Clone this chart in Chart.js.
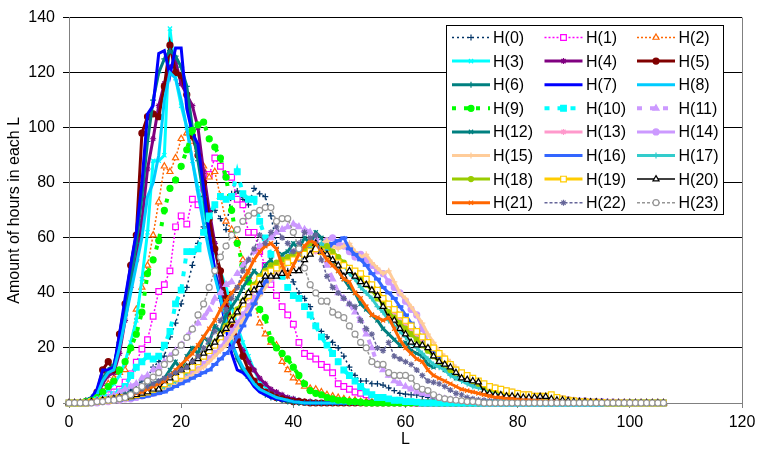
<!DOCTYPE html>
<html>
<head>
<meta charset="utf-8">
<script src="https://cdn.jsdelivr.net/npm/chart.js@4.4.1/dist/chart.umd.min.js"></script>
<style>
  html, body { margin: 0; padding: 0; background: #fff; }
  #wrap { width: 761px; height: 451px; }
</style>
</head>
<body>
<div id="wrap"><canvas id="chart" width="761" height="451"></canvas></div>
<script>
// ── Data ───────────────────────────────────────────────────────────────────────

const L = [
  0,1,2,3,4,5,6,7,8,9,10,11,12,13,14,15,16,17,18,19,20,21,22,23,24,25,26,27,28,29,
  30,31,32,33,34,35,36,37,38,39,40,41,42,43,44,45,46,47,48,49,50,51,52,53,54,55,56,57,58,59,
  60,61,62,63,64,65,66,67,68,69,70,71,72,73,74,75,76,77,78,79,80,81,82,83,84,85,86,87,88,89,
  90,91,92,93,94,95,96,97,98,99,100,101,102,103,104,105,106
];

const X_TICKS = [0, 20, 40, 60, 80, 100, 120];
const Y_TICKS = [0, 20, 40, 60, 80, 100, 120, 140];

const NAMES = [
  'H(0)', 'H(1)', 'H(2)', 'H(3)', 'H(4)', 'H(5)', 'H(6)', 'H(7)',
  'H(8)', 'H(9)', 'H(10)', 'H(11)', 'H(12)', 'H(13)', 'H(14)', 'H(15)',
  'H(16)', 'H(17)', 'H(18)', 'H(19)', 'H(20)', 'H(21)', 'H(22)', 'H(23)'
];

const H0 = [
  0,0,0,0,0,0.5,1,1.5,2,3,
  3.5,4.7,6.5,8,9.4,13,15,17,24,29,
  36,42,50,58,64,69,70,67,63,76,
  77,74,72,78,76,75,68,58,52,48,
  44,40,38,35,28,26,24,22,20,17,
  13,10,8,8,7,7,6.5,5.5,4.5,3.5,
  3.2,3,2.9,2.5,2,1.5,1.2,1,0.8,0.5,
  0.5,0.3,0,0,0,0,0,0,0,0,
  0,0,0,0,0,0,0,0,0,0,
  0,0,0,0,0,0,0,0,0,0,
  0,0,0,0,0,0,0
];
const H1 = [
  0,0,0,0,0.5,1,2,3,4,5,
  7.6,10.6,14.8,19.6,23,31.5,40.5,43,48,64,
  68,65,74,72,78,83,89,86,83,82,
  74,72,62,62,55,50,43,39,35,32,
  28.6,22,18,17,16,14,13,11,7,6,
  5,4,3.5,3,2,1.5,1,1,0.5,0.5,
  0.3,0.2,0,0,0,0,0,0,0,0,
  0,0,0,0,0,0,0,0,0,0,
  0,0,0,0,0,0,0,0,0,0,
  0,0,0,0,0,0,0,0,0,0,
  0,0,0,0,0,0,0
];
const H2 = [
  0,0,0,0.5,1,2,4,7,9,11,
  12,20,34,42,50,61,73,86,84,89,
  96,98,95,92,86,82,84,75,66,63,
  59,52,46,37,29,25,22,21,15,12,
  9,7.6,6,5.3,5,4,3,2.5,2,1.5,
  1,1,0.5,0.5,0.3,0.2,0,0,0,0,
  0,0,0,0,0,0,0,0,0,0,
  0,0,0,0,0,0,0,0,0,0,
  0,0,0,0,0,0,0,0,0,0,
  0,0,0,0,0,0,0,0,0,0,
  0,0,0,0,0,0,0
];
const H3 = [
  0,0,0,0,0.5,1,3,5,7,10,
  15,22,30,45,62,88,88,90,136,118,
  108,100,88,78,70,62,55,48,42,35,
  28,22,17,12,8,6,4.5,3.5,2.5,2,
  1.5,1,0.5,0.5,0.3,0,0,0,0,0,
  0,0,0,0,0,0,0,0,0,0,
  0,0,0,0,0,0,0,0,0,0,
  0,0,0,0,0,0,0,0,0,0,
  0,0,0,0,0,0,0,0,0,0,
  0,0,0,0,0,0,0,0,0,0,
  0,0,0,0,0,0,0
];
const H4 = [
  0,0,0,0.5,1,3,7,10,11,18,
  30,42,52,66,85,96,108,116,122,124,
  116,112,108,100,84,70,58,44,34,26,
  23,19,15,12,9,7,5,4,3,2,
  1.5,1,0.5,0.5,0.3,0,0,0,0,0,
  0,0,0,0,0,0,0,0,0,0,
  0,0,0,0,0,0,0,0,0,0,
  0,0,0,0,0,0,0,0,0,0,
  0,0,0,0,0,0,0,0,0,0,
  0,0,0,0,0,0,0,0,0,0,
  0,0,0,0,0,0,0
];
const H5 = [
  0,0,0,0.5,1,4,12,15,12,25,
  36,50,61,98,104,105,104,115,130,120,
  119,112,97,90,80,67,56,48,38,29,
  23,17,12,8,6,4,3,2,1.5,1,
  0.5,0.5,0.3,0,0,0,0,0,0,0,
  0,0,0,0,0,0,0,0,0,0,
  0,0,0,0,0,0,0,0,0,0,
  0,0,0,0,0,0,0,0,0,0,
  0,0,0,0,0,0,0,0,0,0,
  0,0,0,0,0,0,0,0,0,0,
  0,0,0,0,0,0,0
];
const H6 = [
  0,0,0,1,2,4,9,12,14,22,
  32,45,58,75,95,110,120,125,128,126,
  122,115,100,88,75,60,48,38,30,22,
  16,12,9,7,5,3,2,1.5,1,0.5,
  0.3,0,0,0,0,0,0,0,0,0,
  0,0,0,0,0,0,0,0,0,0,
  0,0,0,0,0,0,0,0,0,0,
  0,0,0,0,0,0,0,0,0,0,
  0,0,0,0,0,0,0,0,0,0,
  0,0,0,0,0,0,0,0,0,0,
  0,0,0,0,0,0,0
];
const H7 = [
  0,0,0,1,2,5,12,12,13,25,
  38,50,62,80,105,108,127,128,119,129,
  129,107,98,94,78,62,48,38,27,18,
  12,11,9,6,4,3,2,1.5,1,1,
  0.5,0.3,0,0,0,0,0,0,0,0,
  0,0,0,0,0,0,0,0,0,0,
  0,0,0,0,0,0,0,0,0,0,
  0,0,0,0,0,0,0,0,0,0,
  0,0,0,0,0,0,0,0,0,0,
  0,0,0,0,0,0,0,0,0,0,
  0,0,0,0,0,0,0
];
const H8 = [
  0,0,0,0.5,1,3,8,11,12,20,
  30,40,50,60,75,80,90,110,120,118,
  110,100,88,76,65,55,46,38,30,22,
  17,13,10,7,5,4,3,2,1.5,1,
  0.5,0.3,0,0,0,0,0,0,0,0,
  0,0,0,0,0,0,0,0,0,0,
  0,0,0,0,0,0,0,0,0,0,
  0,0,0,0,0,0,0,0,0,0,
  0,0,0,0,0,0,0,0,0,0,
  0,0,0,0,0,0,0,0,0,0,
  0,0,0,0,0,0,0
];
const H9 = [
  0,0,0,0.5,1,2,4,6,8,12,
  15,20,25,33,47,52,59,70,78,81,
  86,92,99,101,102,96,93,89,82,70,
  58,50,44,38,34,31,23,20,18,16,
  13,10,7,4.5,3.5,3,2,1.5,1,1,
  0.5,0.5,0.3,0,0,0,0,0,0,0,
  0,0,0,0,0,0,0,0,0,0,
  0,0,0,0,0,0,0,0,0,0,
  0,0,0,0,0,0,0,0,0,0,
  0,0,0,0,0,0,0,0,0,0,
  0,0,0,0,0,0,0
];
const H10 = [
  0,0,0,0,0.5,1,1.5,2,3,4,
  6,10,13,15,17,16,17,21,26,36,
  41,55,55,56,62,68,72,75,74,75,
  84,76,74,74,66,60,54,50,46,42,
  39,38,35,32,28,24,21,18,15,12,
  10,8,6,4,3,2,2,1.5,1,1,
  0.5,0.5,0.3,0,0,0,0,0,0,0,
  0,0,0,0,0,0,0,0,0,0,
  0,0,0,0,0,0,0,0,0,0,
  0,0,0,0,0,0,0,0,0,0,
  0,0,0,0,0,0,0
];
const H11 = [
  0,0,0,0,0.5,1,1.5,2,3,4,
  5,6,7,9,10,12,13,15,17,19,
  21,24,27,29,31,34,38,40,43,44,
  47,50,52,55,57,58,60,62,63,64,
  65,64,63,62,60,56,50,45,40,38,
  36,33,30,25,20,14,12,10,8,7,
  6,5,4,3.5,3,2.5,2,1.5,1.2,1,
  0.8,0.5,0.5,0.3,0.2,0,0,0,0,0,
  0,0,0,0,0,0,0,0,0,0,
  0,0,0,0,0,0,0,0,0,0,
  0,0,0,0,0,0,0
];
const H12 = [
  0,0,0,0.5,0.5,1,1,1.5,2,2.5,
  3,3.5,4,5,6,7,8,9,12,15,
  12,17,20,18,24,22,28,26,32,35,
  38,42,45,48,46,50,52,48,54,55,
  58,56,60,58,62,60,55,52,48,45,
  42,40,36,34,32,30,27,25,23,21,
  22,19,18,17,14,13,14,12,11,9,
  10,8,7,6,5,4.5,4,3.5,3,2.5,
  2,1.5,1.2,1,0.8,0.5,0.5,0.3,0,0,
  0,0,0,0,0,0,0,0,0,0,
  0,0,0,0,0,0,0
];
const H13 = [
  0,0,0,0,0,0.5,0.5,1,1,1.5,
  2,2,2.5,3,3.5,4,5,6,7,8,
  10,11,13,15,17,19,21,24,27,30,
  33,36,38,41,44,47,49,50,52,53,
  55,54,56,57,55,56,57,55,52,50,
  49,47,46,44,42,40,38,36,33,30,
  28,26,24,22,20,18,16,14,13,12,
  10,9,8,7,6,5.5,5,4.5,4,3.5,
  3,2.5,2.5,2,2,1.5,1.5,1,1,0.8,
  0.5,0.5,0.5,0.3,0.3,0.2,0.2,0,0,0,
  0,0,0,0,0,0,0
];
const H14 = [
  0,0,0,0,0,0,0.5,0.5,1,1,
  1.5,1.5,2,2.5,3,3.5,4,5,6,7,
  8,9,11,12,14,16,18,20,23,26,
  29,32,35,38,40,43,45,47,49,51,
  52,53,55,56,58,57,59,60,58,57,
  55,53,54,52,50,48,47,44,42,40,
  37,34,32,27,22,20,17,15,13,12,
  10,9,8,7,6.5,6,5.5,5,4.5,4,
  3.5,3,3,2.5,2.5,2,2,1.5,1.5,1.2,
  1,0.8,0.8,0.5,0.5,0.5,0.3,0.3,0.2,0.2,
  0,0,0,0,0,0,0
];
const H15 = [
  0,0,0,0,0,0,0.5,0.5,1,1,
  1.5,2,2.5,3,3.5,4,4.5,5,6,7,
  8,9,10,12,13,15,17,19,21,24,
  27,30,33,36,39,42,45,47,49,51,
  52,54,55,56,57,58,59,57,56,57,
  58,55,53,54,51,49,47,48,44,40,
  38,35,32,29,25,22,19,17,15,13,
  11,10,9,8,7,6,5.5,5,4.5,4,
  3.5,3,3,2.5,2.5,2,2,1.5,1.5,1,
  1,0.8,0.5,0.5,0.5,0.3,0.3,0.2,0,0,
  0,0,0,0,0,0,0
];
const H16 = [
  0,0,0,0,0,0.5,0.5,1,1,1,
  1.5,1.5,2,2,2.5,3,3.5,4,5,6,
  7,8,9,10,11,12,14,16,18,20,
  24,28,32,36,40,44,48,50,52,53,
  55,52,54,56,57,56,55,58,59,60,
  56,54,52,50,47,45,42,40,38,35,
  32,29,26,24,21,19,17,15,13,12,
  10,9,8,7,6,5,4.5,4,3.5,3,
  2.5,2,2,1.5,1.5,1.2,1,1,0.8,0.5,
  0.5,0.3,0.3,0.2,0,0,0,0,0,0,
  0,0,0,0,0,0,0
];
const H17 = [
  0,0,0,0,0.5,0.5,1,1,1.5,1.5,
  2,2.5,3,3.5,4,4.5,5,6,7,8,
  10,11,13,15,17,19,21,24,27,30,
  33,36,39,42,45,47,49,50,51,52,
  53,54,55,56,57,58,56,54,52,50,
  47,45,42,40,38,35,33,30,28,26,
  24,22,20,18,16,14,13,12,10,9,
  8,7,6,5.5,5,4.5,4,3.5,3,2.5,
  2,2,1.5,1.5,1,1,0.8,0.5,0.5,0.3,
  0.3,0.2,0,0,0,0,0,0,0,0,
  0,0,0,0,0,0,0
];
const H18 = [
  0,0,0,0,0.5,0.5,1,1,1.5,2,
  2,2.5,3,4,4.5,5,6,7,8,10,
  11,13,14,16,18,20,22,25,28,31,
  34,37,40,43,46,48,50,51,52,53,
  54,55,56,58,57,56,57,55,53,51,
  49,47,45,43,41,38,36,33,31,29,
  27,25,23,21,19,17,15,14,12,11,
  10,9,8,7,6,5,4.5,4,3.5,3,
  2.5,2.5,2,2,1.5,1.5,1,1,0.8,0.5,
  0.5,0.3,0.3,0.2,0,0,0,0,0,0,
  0,0,0,0,0,0,0
];
const H19 = [
  0,0,0,0,0.5,0.5,1,1,1.5,2,
  2,2.5,3,3.5,4,5,6,7,8,9,
  10,12,13,15,17,19,21,24,27,30,
  33,36,39,42,45,47,48,49,50,51,
  52,53,54,55,56,55,54,53,51,50,
  49,48,47,45,43,41,38,36,34,32,
  30,28,26,24,22,20,18,16,14,12,
  11,10,9,8,7,6,5.5,5,4.5,4,
  3.5,3,3,2.5,2.5,2.5,3,2,1.5,1,
  0.8,0.5,0.5,0.3,0.3,0.2,0,0,0,0,
  0,0,0,0,0,0,0
];
const H20 = [
  0,0,0,0,0.5,0.5,1,1,1.5,2,
  2,2.5,3,3.5,4,5,5,8,9,11,
  12,13,15,16,18,20,22,25,27,30,
  33,37,40,41,43,46,46,46,47,47,
  48,48,52,54,58,55,54,52,50,46,
  48,46,44,43,41,39,35,31,30,27,
  25,22,21,21,20,17,15,14,13,11,
  9,8.5,8,7.6,4,3.5,3,2.9,2.5,2.5,
  2.3,2,2,2,2.3,2.3,1.5,1,1,0.8,
  0.5,0.5,0.5,0.3,0.3,0.2,0,0,0,0,
  0,0,0,0,0,0,0
];
const H21 = [
  0,0,0,0,0.5,0.5,1,1,1.5,2,
  2.5,3,3.5,4,5,6,7,8,10,12,
  14,16,18,21,24,27,30,34,37,40,
  42,45,48,52,55,57,58,56,50,46,
  50,54,57,59,58,55,52,50,48,45,
  44,40,38,35,32,31,30,31,27,23,
  20,18,16,15,12,10,9,8,7,6,
  5,4.5,4,3.5,3,2.5,2,2,1.5,1.5,
  1.2,1,1,0.8,0.8,0.5,0.5,0.5,0.3,0.3,
  0.2,0.2,0,0,0,0,0,0,0,0,
  0,0,0,0,0,0,0
];
const H22 = [
  0,0,0,0,0,0.5,0.5,1,1.5,2,
  2.5,3,4,5,6,7,8,9,10,11,
  12,13,15,17,20,23,26,30,34,38,
  42,48,52,56,61,58,62,64,60,58,
  55,58,62,60,61,52,46,42,40,38,
  36,35,30,27,25,20,19,22,17,16,
  15,14,12,10,8,7.5,7,6,4.7,3.5,
  3,2,1.5,1.2,1,0.7,0.5,0.3,0.2,0,
  0,0,0,0,0,0,0,0,0,0,
  0,0,0,0,0,0,0,0,0,0,
  0,0,0,0,0,0,0
];
const H23 = [
  0,0,0,0,0,0.5,0.5,1,1,1.5,
  2,3,4.7,6,8,9.4,11,14,16,18.4,
  21,23.8,26.8,32,36,42,48,53,57,61,
  63,66,68,69,70,71,71,66,67,67,
  62,56,49,43,40,37,37,33,32,31,
  28,25,22,20,15,14,14,11,10,10,
  10,9,6,5,4.5,3,2,1.5,1.2,1,
  0.8,0.5,0.5,0.3,0,0,0,0,0,0,
  0,0,0,0,0,0,0,0,0,0,
  0,0,0,0,0,0,0,0,0,0,
  0,0,0,0,0,0,0
];

const SERIES = [H0, H1, H2, H3, H4, H5, H6, H7, H8, H9, H10, H11,
                H12, H13, H14, H15, H16, H17, H18, H19, H20, H21, H22, H23];

// ── Styles (colour, line width, dash, marker, marker radius, marker fill) ─────

const STYLES = [
  ['#003366', 1.5, [2, 3], 'cross',    3,   null],
  ['#FF00FF', 1.5, [2, 2], 'rect',     4,   '#FFFFFF'],
  ['#FF6600', 1.5, [2, 2], 'triangle', 3.5, '#FFFFFF'],
  ['#00FFFF', 3,   [],     'crossRot', 3,   null],
  ['#800080', 3,   [],     'star',     3,   null],
  ['#800000', 3,   [],     'circle',   3,   '#800000'],
  ['#008080', 3,   [],     'cross',    3,   null],
  ['#0000FF', 3,   [],     false,      0,   null],
  ['#00CCFF', 3,   [],     false,      0,   null],
  ['#00FF00', 4,   [4, 8], 'circle',   3,   '#00FF00'],
  ['#00FFFF', 4,   [5, 8], 'rect',     4,   '#00FFFF'],
  ['#CC99FF', 4,   [5, 8], 'triangle', 3.5, '#CC99FF'],
  ['#008080', 3,   [],     'crossRot', 3,   null],
  ['#FF99CC', 3,   [],     'star',     3,   null],
  ['#CC99FF', 3,   [],     'circle',   3,   '#CC99FF'],
  ['#FFCC99', 3,   [],     'cross',    3,   null],
  ['#3366FF', 3,   [],     'line',     3.5, null],
  ['#33CCCC', 3,   [],     'cross',    3,   null],
  ['#99CC00', 3,   [],     'circle',   2.5, '#99CC00'],
  ['#FFCC00', 3,   [],     'rect',     4,   '#FFFFFF'],
  ['#000000', 1.5, [],     'triangle', 3.5, '#FFFFFF'],
  ['#FF6600', 3,   [],     'crossRot', 3,   null],
  ['#666699', 1.5, [3, 2], 'star',     3,   null],
  ['#969696', 1.5, [3, 2], 'circle',   3,   '#FFFFFF']
];

const FONT = '"Liberation Sans", Arial, sans-serif';

SERIES.forEach((s, i) => {
  if (s.length !== L.length) throw new Error(NAMES[i] + ' has ' + s.length + ' values');
});

// ── Plugins ────────────────────────────────────────────────────────────────────

function drawMarker(ctx, st, x, y) {
  const [color, , , marker, r, fill] = st;
  if (!marker) return;
  ctx.save();
  ctx.setLineDash([]);
  ctx.strokeStyle = color;
  ctx.fillStyle = fill || color;
  ctx.lineWidth = marker === 'line' ? 3 : 1.2;
  Chart.helpers.drawPoint(ctx, { pointStyle: marker, radius: r, rotation: 0, borderWidth: ctx.lineWidth }, x, y);
  ctx.restore();
}

const plotFrame = {
  id: 'plotFrame',
  beforeDatasetsDraw(chart) {
    const { ctx, chartArea: a } = chart;
    ctx.save();
    ctx.strokeStyle = '#808080';
    ctx.lineWidth = 1;
    ctx.beginPath();
    ctx.moveTo(Math.round(a.right) + 0.5, a.top);
    ctx.lineTo(Math.round(a.right) + 0.5, a.bottom);
    ctx.stroke();
    ctx.restore();
  }
};

const legendBox = {
  id: 'legendBox',
  afterDraw(chart) {
    const ctx = chart.ctx;
    const box = { x: 446.5, y: 25.5, w: 277, h: 189 };
    const rowY0 = 37.5, rowStep = 23.6;
    const lineX = [452, 544.5, 637], lineLen = 38;
    const textX = [493, 586, 678.5];
    ctx.save();
    ctx.fillStyle = '#FFFFFF';
    ctx.fillRect(box.x, box.y, box.w, box.h);
    ctx.strokeStyle = '#000000';
    ctx.lineWidth = 1;
    ctx.strokeRect(box.x, box.y, box.w, box.h);
    ctx.font = '16px ' + FONT;
    ctx.textBaseline = 'middle';
    NAMES.forEach((name, i) => {
      const col = i % 3, row = Math.floor(i / 3);
      const y = rowY0 + row * rowStep;
      const st = STYLES[i];
      ctx.save();
      ctx.strokeStyle = st[0];
      ctx.lineWidth = st[1];
      ctx.setLineDash(st[2]);
      ctx.beginPath();
      ctx.moveTo(lineX[col], y);
      ctx.lineTo(lineX[col] + lineLen, y);
      ctx.stroke();
      ctx.restore();
      drawMarker(ctx, st, lineX[col] + lineLen / 2, y);
      ctx.fillStyle = '#000000';
      ctx.fillText(name, textX[col], y + 1);
    });
    ctx.restore();
  }
};

// ── Chart ──────────────────────────────────────────────────────────────────────

const datasets = SERIES.map((values, i) => {
  const [color, width, dash, marker, r, fill] = STYLES[i];
  return {
    label: NAMES[i],
    data: values.map((v, k) => ({ x: L[k], y: v })),
    borderColor: color,
    borderWidth: width,
    borderDash: dash,
    backgroundColor: fill || color,
    pointStyle: marker,
    pointRadius: marker ? r : 0,
    pointBorderColor: color,
    pointBackgroundColor: fill || color,
    pointBorderWidth: marker === 'line' ? 3 : 1.2,
    pointHoverRadius: 0,
    tension: 0,
    fill: false,
    clip: false,
    order: SERIES.length - 1 - i
  };
});

new Chart(document.getElementById('chart'), {
  type: 'line',
  data: { datasets },
  options: {
    responsive: false,
    animation: false,
    events: [],
    layout: { padding: { left: 0, right: 19, top: 12, bottom: 0 } },
    plugins: { legend: { display: false }, tooltip: { enabled: false } },
    scales: {
      x: {
        type: 'linear',
        min: 0, max: 120,
        afterBuildTicks: s => { s.ticks = X_TICKS.map(v => ({ value: v })); },
        afterFit: s => { s.height = 48; },
        grid: { drawOnChartArea: false, drawTicks: true, tickLength: 5, color: '#808080' },
        border: { color: '#808080', width: 1 },
        ticks: { color: '#000', padding: 5, font: { family: FONT, size: 16 }, maxRotation: 0 },
        title: { display: true, text: 'L', color: '#000', font: { family: FONT, size: 16 }, padding: { top: 0, bottom: 2 } }
      },
      y: {
        min: 0, max: 140,
        afterBuildTicks: s => { s.ticks = Y_TICKS.map(v => ({ value: v })); },
        afterFit: s => { s.width = 69; },
        grid: {
          color: c => (c.tick && c.tick.value === 0 ? '#808080' : '#000000'),
          drawTicks: true, tickLength: 6, lineWidth: 1
        },
        border: { color: '#808080', width: 1 },
        ticks: { color: '#000', padding: 8, font: { family: FONT, size: 16 } },
        title: { display: true, text: 'Amount of hours in each L', color: '#000', font: { family: FONT, size: 16 }, padding: { top: 5, bottom: 0 } }
      }
    }
  },
  plugins: [plotFrame, legendBox]
});
</script>
</body>
</html>
